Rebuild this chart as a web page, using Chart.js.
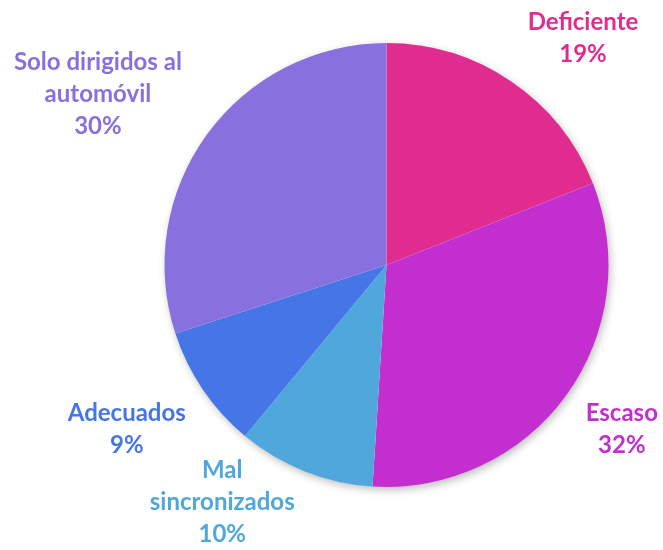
<!DOCTYPE html>
<html>
<head>
<meta charset="utf-8">
<script src="https://cdn.jsdelivr.net/npm/chart.js@4"></script>
<style>
  html, body { margin: 0; padding: 0; background: #fff; }
  #wrap { width: 663px; height: 550px; }
</style>
</head>
<body>
<div id="wrap"><canvas id="chart" width="663" height="550"></canvas></div>
<script>
// datos
const categorias = [['Deficiente'], ['Escaso'], ['Mal', 'sincronizados'], ['Adecuados'], ['Solo dirigidos al', 'automóvil']];
const porcentajes = [19, 32, 10, 9, 30];
const colores = ['#E02C8E', '#C32FCF', '#4FA7DC', '#4676E6', '#8870DE'];

// desplazamiento de cada etiqueta respecto al centro, en radios
const etiquetaPos = [[0.885, -1.02], [1.06, 0.74], [-0.74, 1.07], [-1.17, 0.74], [-1.30, -0.77]];

const sombraPlugin = {
    id: 'sombra',
    beforeDatasetsDraw(chart) {
        const arc = chart.getDatasetMeta(0).data[0];
        const ctx = chart.ctx;
        ctx.save();
        ctx.shadowColor = 'rgba(0,0,0,0.28)';
        ctx.shadowBlur = 9;
        ctx.shadowOffsetX = 2;
        ctx.shadowOffsetY = 3;
        ctx.fillStyle = '#fff';
        ctx.beginPath();
        ctx.arc(arc.x, arc.y, arc.outerRadius - 0.5, 0, Math.PI * 2);
        ctx.fill();
        ctx.restore();
    }
};

const etiquetasPlugin = {
    id: 'etiquetas',
    afterDatasetsDraw(chart) {
        const ctx = chart.ctx;
        const arcs = chart.getDatasetMeta(0).data;
        const cx = arcs[0].x, cy = arcs[0].y, r = arcs[0].outerRadius;
        ctx.save();
        ctx.font = 'bold 24px Lato';
        ctx.textAlign = 'center';
        ctx.textBaseline = 'middle';
        categorias.forEach((lineas, i) => {
            const texto = lineas.concat([porcentajes[i] + '%']);
            const x = cx + etiquetaPos[i][0] * r;
            const y0 = cy + etiquetaPos[i][1] * r - (texto.length - 1) * 32 / 2;
            ctx.fillStyle = colores[i];
            texto.forEach((t, j) => ctx.fillText(t, x, y0 + j * 32));
        });
        ctx.restore();
    }
};

new Chart(document.getElementById('chart'), {
    type: 'pie',
    data: {
        labels: categorias.map(c => c.join(' ')),
        datasets: [{
            data: porcentajes,
            backgroundColor: colores,
            borderWidth: 0
        }]
    },
    options: {
        responsive: false,
        animation: false,
        layout: { padding: { top: 43, bottom: 63, left: 164.5, right: 54.5 } },
        plugins: {
            legend: { display: false },
            tooltip: { enabled: false }
        }
    },
    plugins: [sombraPlugin, etiquetasPlugin]
});
</script>
</body>
</html>
